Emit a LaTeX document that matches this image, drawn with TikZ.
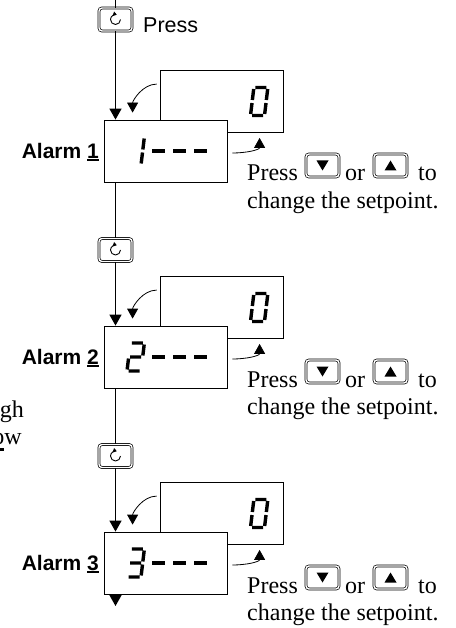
\documentclass[tikz,border=0pt]{standalone}
\usepackage{fontspec}
\setmainfont{Liberation Serif}
\setsansfont{Liberation Sans}
\usetikzlibrary{arrows.meta,calc}

\newcommand{\alarmno}[1]{\setbox0\hbox{#1}\rlap{\rule[-2.6pt]{\wd0}{1.8pt}}\box0}

\begin{document}
\begin{tikzpicture}[x=1pt,y=1pt,yscale=-1,xscale=1,
		display/.style={draw, fill=white, line width=0.8pt, minimum width=123pt, minimum height=62pt, inner sep=0pt},
		keybtn/.style={draw, double, double distance=1.4pt, line width=0.7pt, rounded corners=3pt, minimum width=33pt, minimum height=23pt, inner sep=0pt},
		seg/.style={line width=3.4pt},
		flow/.style={line width=1.5pt, -{Triangle[width=12pt,length=11pt]}},
		link/.style={line width=0.7pt},
		turn/.style={line width=0.8pt, -{Triangle[width=11pt,length=10pt]}},
		scrollicon/.style={line width=0.9pt, -{Triangle[width=4.5pt,length=3.5pt]}},
		alarmlbl/.style={font=\sffamily\bfseries\fontsize{21}{25}\selectfont, inner sep=0pt},
		hint/.style={font=\fontsize{24}{28}\selectfont, inner sep=0pt}]
		\useasboundingbox (0,0) rectangle (455,628);

		% Left column cut off at the page edge
		\node[hint, anchor=base east] (frag1) at (24,417) {gh};
		\node[hint, anchor=base east] (frag2) at (22,444) {ow};
		\fill (0,448) rectangle (4,451);

		% Feed line, scroll key and "Press"
		\coordinate (feed) at (115.5,0);
		\node[keybtn] (key1) at (115.5,19.5) {};
		\draw[scrollicon] ($(key1.center)+(5,0)$) arc[start angle=0, end angle=285, radius=5];
		\node[anchor=base west, inner sep=0pt, font=\sffamily\fontsize{21.5}{25}\selectfont] (press) at (143,33) {Press};
		\draw[link] (feed) -- (key1);

		% Alarm 1: back display, front display, label
		\node[display] (back1) at (221.5,101.5) {};
		\node[display] (disp1) at (165.5,151) {};
		\node[alarmlbl, anchor=base east] (lbl1) at (99,158.5) {Alarm \alarmno{1}};
		\draw[flow] (key1) -- (disp1.north -| key1);
		\begin{scope}[shift={(127,165)}, xslant=-0.12]
			\draw[seg] (14,-26.5) -- (14,-15.5) (14,-12.5) -- (14,-1.5);
			\draw[seg] (23.5,-14) -- (36.5,-14) (44.5,-14) -- (57.5,-14) (65.5,-14) -- (78.5,-14);
		\end{scope}
		\begin{scope}[shift={(250.5,115.5)}, xslant=-0.12]
			\draw[seg] (1.5,-28) -- (12.5,-28) (14,-26.5) -- (14,-15.5) (14,-12.5) -- (14,-1.5)
			(1.5,0) -- (12.5,0) (0,-1.5) -- (0,-12.5) (0,-15.5) -- (0,-26.5);
		\end{scope}
		\draw[turn] ($(back1.north west)+(-3,14)$) .. controls +(-14,0) and +(0,-12) .. ($(disp1.north west)+(29,-7)$);
		\draw[turn] ($(disp1.east)+(5,2)$) .. controls +(14,0) and +(0,12) .. ($(back1.south west)+(100,5)$);

		% Setpoint hint 1
		\node[hint, anchor=base west] (hintA1) at (247,181) {Press};
		\node[keybtn] (down1) at (322.5,165.5) {};
		\fill ($(down1.center)+(-6,-5)$) -- ++(12,0) -- ++(-6,10) -- cycle;
		\node[hint, anchor=base west] (hintB1) at (345,181) {or};
		\node[keybtn] (up1) at (390.5,165.5) {};
		\fill ($(up1.center)+(-6,5)$) -- ++(12,0) -- ++(-6,-10) -- cycle;
		\node[hint, anchor=base west] (hintC1) at (418,181) {to};
		\node[hint, anchor=base west] (hintD1) at (247,208) {change the setpoint.};

		% Alarm 2
		\node[keybtn] (key2) at (115.5,250) {};
		\draw[scrollicon] ($(key2.center)+(5,0)$) arc[start angle=0, end angle=285, radius=5];
		\draw[link] (disp1.south -| key2) -- (key2);
		\node[display] (back2) at (221.5,307.5) {};
		\node[display] (disp2) at (165.5,357) {};
		\node[alarmlbl, anchor=base east] (lbl2) at (99,364.5) {Alarm \alarmno{2}};
		\draw[flow] (key2) -- (disp2.north -| key2);
		\begin{scope}[shift={(127,371)}, xslant=-0.12]
			\draw[seg] (1.5,-28) -- (12.5,-28) (14,-26.5) -- (14,-15.5) (1.5,-14) -- (12.5,-14)
			(0,-12.5) -- (0,-1.5) (1.5,0) -- (12.5,0);
			\draw[seg] (23.5,-14) -- (36.5,-14) (44.5,-14) -- (57.5,-14) (65.5,-14) -- (78.5,-14);
		\end{scope}
		\begin{scope}[shift={(250.5,321.5)}, xslant=-0.12]
			\draw[seg] (1.5,-28) -- (12.5,-28) (14,-26.5) -- (14,-15.5) (14,-12.5) -- (14,-1.5)
			(1.5,0) -- (12.5,0) (0,-1.5) -- (0,-12.5) (0,-15.5) -- (0,-26.5);
		\end{scope}
		\draw[turn] ($(back2.north west)+(-3,14)$) .. controls +(-14,0) and +(0,-12) .. ($(disp2.north west)+(29,-7)$);
		\draw[turn] ($(disp2.east)+(5,2)$) .. controls +(14,0) and +(0,12) .. ($(back2.south west)+(100,5)$);

		% Setpoint hint 2
		\node[hint, anchor=base west] (hintA2) at (247,387) {Press};
		\node[keybtn] (down2) at (322.5,371.5) {};
		\fill ($(down2.center)+(-6,-5)$) -- ++(12,0) -- ++(-6,10) -- cycle;
		\node[hint, anchor=base west] (hintB2) at (345,387) {or};
		\node[keybtn] (up2) at (390.5,371.5) {};
		\fill ($(up2.center)+(-6,5)$) -- ++(12,0) -- ++(-6,-10) -- cycle;
		\node[hint, anchor=base west] (hintC2) at (418,387) {to};
		\node[hint, anchor=base west] (hintD2) at (247,414) {change the setpoint.};

		% Alarm 3
		\node[keybtn] (key3) at (115.5,456) {};
		\draw[scrollicon] ($(key3.center)+(5,0)$) arc[start angle=0, end angle=285, radius=5];
		\draw[link] (disp2.south -| key3) -- (key3);
		\node[display] (back3) at (221.5,513.5) {};
		\node[display] (disp3) at (165.5,563) {};
		\node[alarmlbl, anchor=base east] (lbl3) at (99,570.5) {Alarm \alarmno{3}};
		\draw[flow] (key3) -- (disp3.north -| key3);
		\begin{scope}[shift={(127,577)}, xslant=-0.12]
			\draw[seg] (1.5,-28) -- (12.5,-28) (14,-26.5) -- (14,-15.5) (1.5,-14) -- (12.5,-14)
			(14,-12.5) -- (14,-1.5) (1.5,0) -- (12.5,0);
			\draw[seg] (23.5,-14) -- (36.5,-14) (44.5,-14) -- (57.5,-14) (65.5,-14) -- (78.5,-14);
		\end{scope}
		\begin{scope}[shift={(250.5,527.5)}, xslant=-0.12]
			\draw[seg] (1.5,-28) -- (12.5,-28) (14,-26.5) -- (14,-15.5) (14,-12.5) -- (14,-1.5)
			(1.5,0) -- (12.5,0) (0,-1.5) -- (0,-12.5) (0,-15.5) -- (0,-26.5);
		\end{scope}
		\draw[turn] ($(back3.north west)+(-3,14)$) .. controls +(-14,0) and +(0,-12) .. ($(disp3.north west)+(29,-7)$);
		\draw[turn] ($(disp3.east)+(5,2)$) .. controls +(14,0) and +(0,12) .. ($(back3.south west)+(100,5)$);

		% Setpoint hint 3
		\node[hint, anchor=base west] (hintA3) at (247,593) {Press};
		\node[keybtn] (down3) at (322.5,577.5) {};
		\fill ($(down3.center)+(-6,-5)$) -- ++(12,0) -- ++(-6,10) -- cycle;
		\node[hint, anchor=base west] (hintB3) at (345,593) {or};
		\node[keybtn] (up3) at (390.5,577.5) {};
		\fill ($(up3.center)+(-6,5)$) -- ++(12,0) -- ++(-6,-10) -- cycle;
		\node[hint, anchor=base west] (hintC3) at (418,593) {to};
		\node[hint, anchor=base west] (hintD3) at (247,620) {change the setpoint.};

		% Outlet arrow
		\coordinate (outlet) at (115.5,606);
		\draw[flow] (disp3.south -| outlet) -- (outlet);
	\end{tikzpicture}
\end{document}
